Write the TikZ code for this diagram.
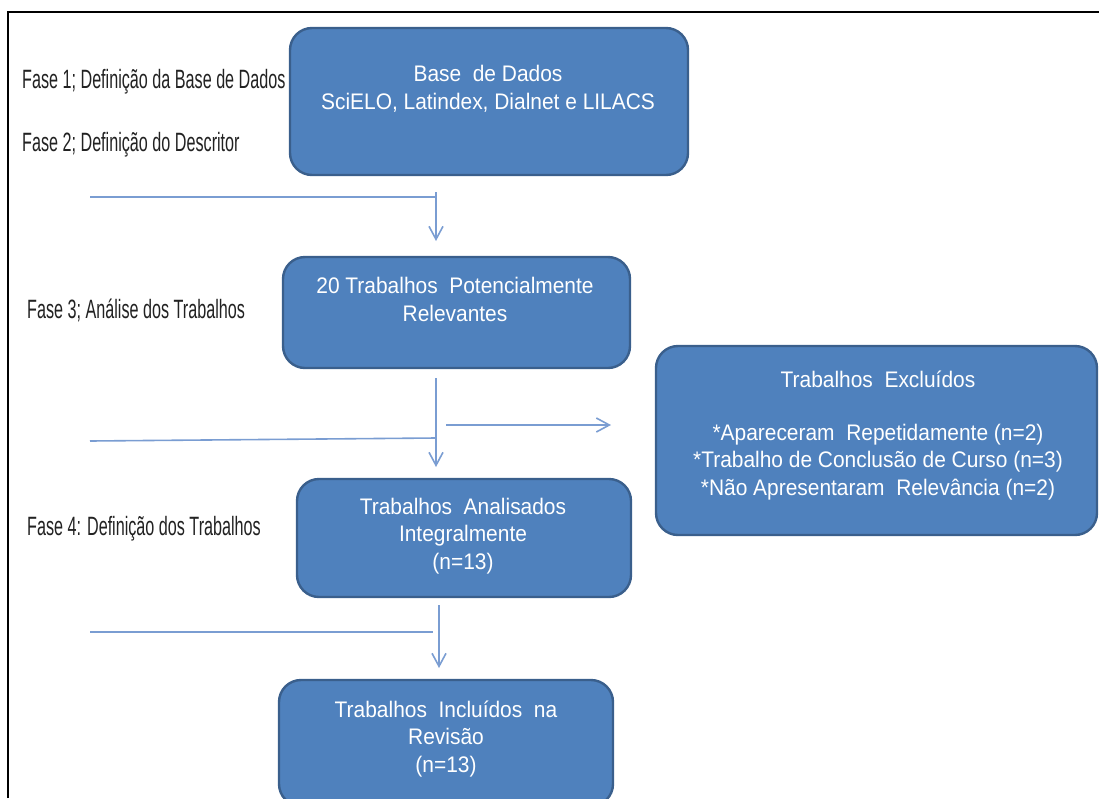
\documentclass[tikz,border=0pt]{standalone}
\usepackage{fontspec}
\setmainfont{Liberation Sans}
\newfontfamily\boxfont{Liberation Sans}[FakeStretch=0.93]
\newfontfamily\fasefont{Liberation Sans}[FakeStretch=0.61]
\usetikzlibrary{arrows.meta,calc}
\definecolor{boxfill}{HTML}{4F81BD}
\definecolor{boxedge}{HTML}{3A5F8C}
\definecolor{linecol}{HTML}{7A9DD2}
\definecolor{fasecol}{HTML}{222222}
\tikzset{
  flowbox/.style={draw=boxedge, line width=2.4pt, fill=boxfill, rounded corners=22pt, inner sep=0pt},
  boxtext/.style={text=white, font=\boxfont\fontsize{22.5}{27.5}\selectfont, align=center, inner sep=0pt, anchor=base},
  fasetext/.style={text=fasecol, font=\fasefont\fontsize{26.5}{30}\selectfont, anchor=base west, inner sep=0pt},
  conn/.style={draw=linecol, line width=1.6pt},
  arr/.style={conn, -{Straight Barb[length=13pt,width=14pt,line width=1.6pt]}},
}
\begin{document}
\begin{tikzpicture}[x=1pt,y=-1pt]
\useasboundingbox (0,0) rectangle (1099,798);
% frame
\draw[line width=2.2pt, black] (8,798) -- (8,12) -- (1099,12);
% boxes (text anchored at the baseline of the last line)
\path[flowbox] (290,28) rectangle (688,175);
\node[boxtext] (b1) at (488,109) {Base\ \ de Dados\\SciELO, Latindex, Dialnet e LILACS};
\path[flowbox] (283,257) rectangle (630,368);
\node[boxtext] (b2) at (455,321) {20 Trabalhos\ \ Potencialmente\\Relevantes};
\path[flowbox] (656,346) rectangle (1097,535);
\node[boxtext] (bx) at (878,495) {Trabalhos\ \ Excluídos\\[25.5pt]*Apareceram\ \ Repetidamente (n=2)\\*Trabalho de Conclusão de Curso (n=3)\\*Não Apresentaram\ \ Relevância (n=2)};
\path[flowbox] (297,479) rectangle (631,597);
\node[boxtext] (b3) at (463,569) {Trabalhos\ \ Analisados\\Integralmente\\(n=13)};
\path[flowbox] (279,680) rectangle (613,806);
\node[boxtext] (b4) at (446,772) {Trabalhos\ \ Incluídos\ \ na\\Revisão\\(n=13)};
% phase labels
\node[fasetext] (f1) at (22,88) {Fase 1; Definição da Base de Dados};
\node[fasetext] (f2) at (22,151) {Fase 2; Definição do Descritor};
\node[fasetext] (f3) at (27,318) {Fase 3; Análise dos Trabalhos};
\node[fasetext] (f4) at (27,535) {Fase 4: Definição dos Trabalhos};
% connectors
\coordinate (a1s) at (436,192);
\coordinate (a1e) at (436,241);
\coordinate (h1s) at (90,197);
\coordinate (h1e) at (436,197);
\draw[arr] (a1s) -- (a1e);
\draw[conn] (h1s) -- (h1e);
\coordinate (a2s) at (436,378);
\coordinate (a2e) at (436,467);
\coordinate (h2s) at (90,441);
\coordinate (h2e) at (436,438);
\draw[arr] (a2s) -- (a2e);
\draw[conn] (h2s) -- (h2e);
\coordinate (r2s) at (446,425);
\coordinate (r2e) at (611,425);
\draw[arr] (r2s) -- (r2e);
\coordinate (a3s) at (439,605);
\coordinate (a3e) at (439,668);
\coordinate (h3s) at (90,632);
\coordinate (h3e) at (433,632);
\draw[arr] (a3s) -- (a3e);
\draw[conn] (h3s) -- (h3e);
\end{tikzpicture}
\end{document}
